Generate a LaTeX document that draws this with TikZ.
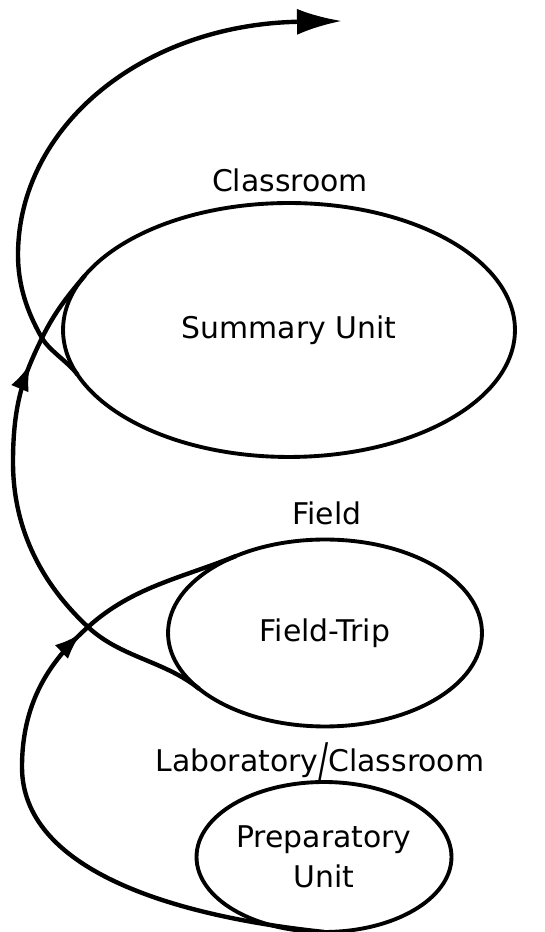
\documentclass[tikz,border=0pt]{standalone}
\usepackage{fontspec}
\usepackage{graphicx}
\setmainfont{DejaVu Sans}
\usetikzlibrary{arrows.meta,positioning,shapes.geometric,decorations.markings}

\begin{document}
\begin{tikzpicture}[>=Latex,x=0.02cm,y=0.02cm,
every node/.style={font=\fontsize{17}{22.7}\selectfont},
unit/.style={ellipse,draw,line width=2.2pt,inner sep=0pt,outer sep=0pt,align=center},
place/.style={anchor=base,inner sep=0pt},
loop/.style={line width=2.5pt},
mid/.style={postaction={decorate},decoration={markings,
  mark=at position #1 with {\arrow{Latex[length=0.55cm,width=0.38cm]}}}}]
\useasboundingbox (0,0) rectangle (544,932);
\node[unit,minimum width=9.04cm,minimum height=5.08cm] (summary) at (289,602) {Summary Unit};
\node[unit,minimum width=6.28cm,minimum height=3.74cm] (fieldtrip) at (325,299) {Field-Trip};
\node[unit,minimum width=5.1cm,minimum height=3cm] (prep) at (324,75) {Preparatory\\Unit};
\node[place] (classroom) at (290,740) {Classroom};
\node[place] (field) at (327,407) {Field};
\node[place] (labclass) at (320,160) {Laboratory\raisebox{-3pt}{\scalebox{1}[1.6]{/}}Classroom};
\coordinate (cross1) at (88,305);
\coordinate (cross2) at (42,594);
\coordinate (tip) at (342,911);
\draw[loop,mid=0.75] (prep.south) .. controls +(174:160) and +(-90:100) .. (22,165)
  .. controls +(90:70) and +(222:45) .. (cross1)
  .. controls +(42:60) and +(202:60) .. (fieldtrip.139);
\draw[loop,mid=0.8] (fieldtrip.204) .. controls +(141:45) and +(-43:45) .. (cross1)
  .. controls +(137:60) and +(-90:70) .. (13,470)
  .. controls +(90:60) and +(244:40) .. (cross2)
  .. controls +(64:30) and +(230:25) .. (summary.165);
\draw[loop,-{Latex[length=0.9cm,width=0.52cm]}] (summary.192) .. controls +(125:15) and +(-60:15) .. (cross2)
  .. controls +(120:30) and +(-90:30) .. (18,677)
  .. controls +(90:128) and +(181:200) .. (tip);
\end{tikzpicture}
\end{document}
